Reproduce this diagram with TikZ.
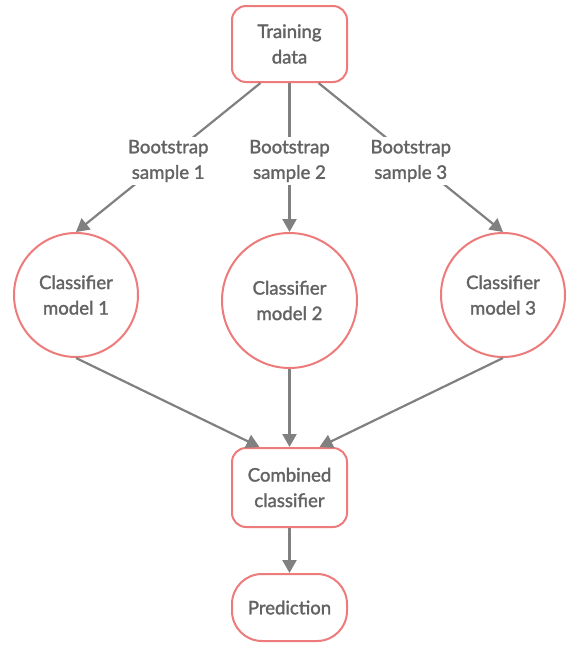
\documentclass[tikz,border=0pt]{standalone}
\usepackage{fontspec}
\setmainfont{Lato}[FakeBold=1.6]
\usetikzlibrary{positioning,arrows.meta}
\definecolor{boxred}{HTML}{EE7B7B}
\definecolor{linegray}{HTML}{808080}
\definecolor{textgray}{HTML}{636363}

\begin{document}
\begin{tikzpicture}[x=1pt, y=1pt,
                    font=\fontsize{18.6}{25.5}\selectfont, text=textgray,
                    roundbox/.style={rectangle, rounded corners=14pt, draw=boxred, line width=2pt, fill=white, minimum width=115pt, minimum height=76pt, align=center, inner sep=0pt},
                    modelnode/.style={circle, draw=boxred, line width=2pt, fill=white, align=center, inner sep=0pt, minimum size=124pt},
                    arrowline/.style={draw=linegray, line width=2.2pt, -{Triangle[length=13pt,width=14pt]}},
                    samplelabel/.style={fill=white, inner sep=3pt, align=center, yshift=-3.5pt}
                ]
                    \useasboundingbox (0,0) rectangle (566,-648);
                    \node[roundbox] (train) at (289.5,-44) {Training\\data};
                    \node[modelnode, minimum size=135pt] (model2) [below=149pt of train] {Classifier\\model 2};
                    \node[modelnode] (model1) [left=82pt of model2, yshift=5.5pt] {Classifier\\model 1};
                    \node[modelnode] (model3) [right=82pt of model2, yshift=5.5pt] {Classifier\\model 3};
                    \node[roundbox, minimum height=79pt] (comb) [below=78pt of model2] {Combined\\classifier};
                    \node[roundbox, minimum height=67pt, rounded corners=30pt] (pred) [below=45pt of comb] {Prediction};

                    \draw[arrowline] ([xshift=-29pt]train.south) -- node[samplelabel] {Bootstrap\\sample 1} (model1.north);
                    \draw[arrowline] (train.south) -- node[samplelabel] {Bootstrap\\sample 2} (model2.north);
                    \draw[arrowline] ([xshift=29pt]train.south) -- node[samplelabel] {Bootstrap\\sample 3} (model3.north);

                    \draw[arrowline] (model1.south) -- ([xshift=-30pt]comb.north);
                    \draw[arrowline] (model2.south) -- (comb.north);
                    \draw[arrowline] (model3.south) -- ([xshift=30pt]comb.north);
                    \draw[arrowline] (comb.south) -- (pred.north);
                \end{tikzpicture}
\end{document}
